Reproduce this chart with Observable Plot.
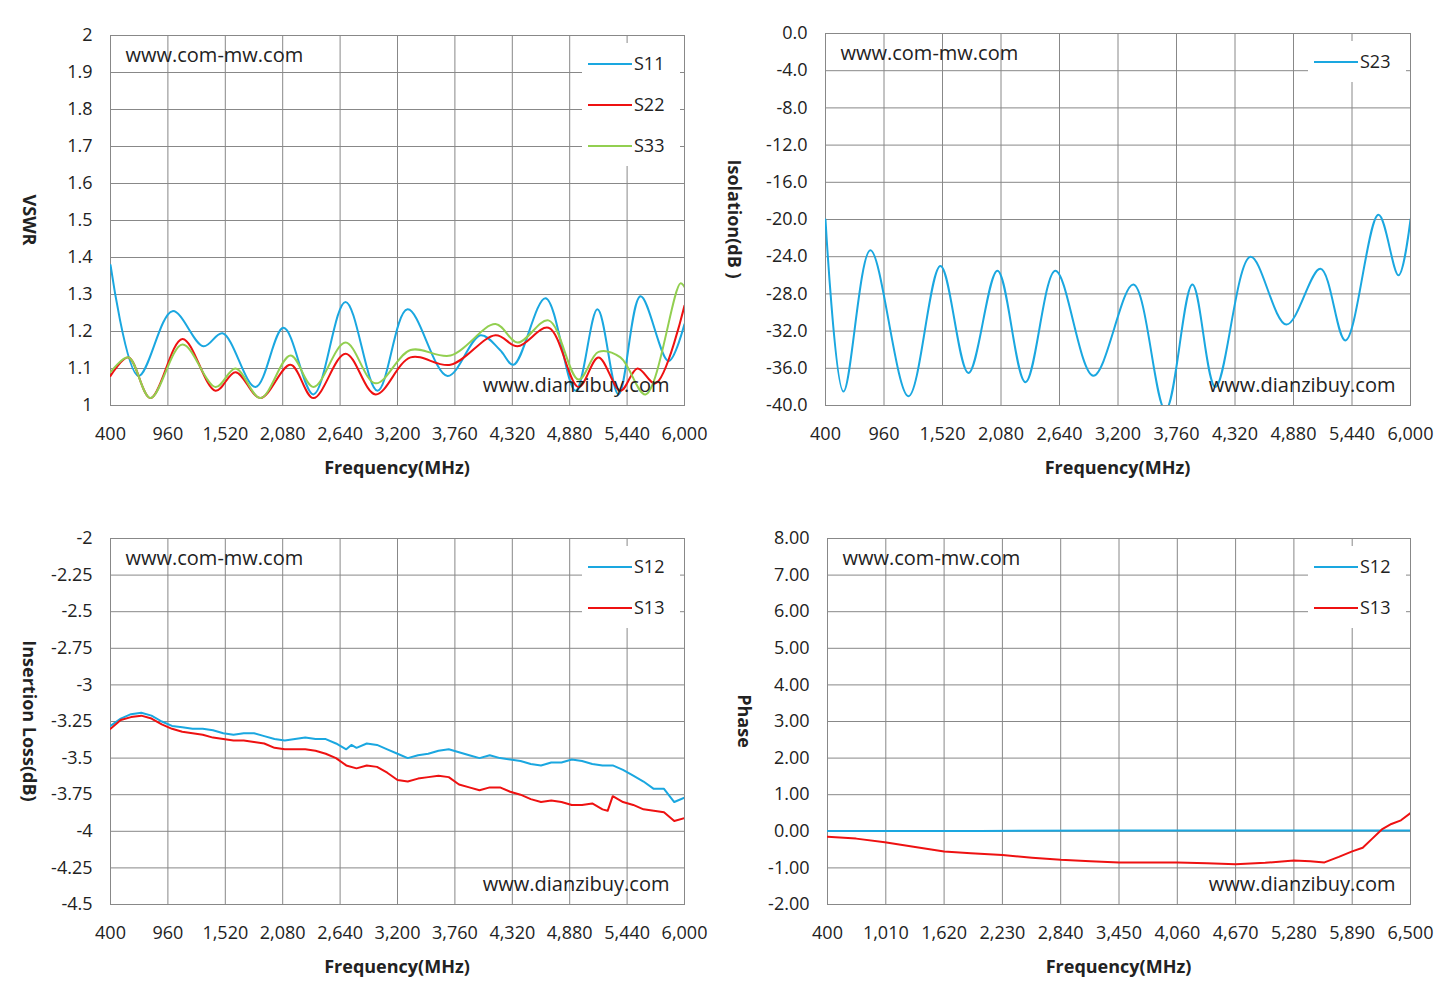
<!DOCTYPE html>
<html><head><meta charset="utf-8">
<script src="https://cdn.jsdelivr.net/npm/d3@7"></script>
<script src="https://cdn.jsdelivr.net/npm/@observablehq/plot@0.6"></script>
<style>
body{margin:0;background:#fff;font-family:"Open Sans",sans-serif;}
#root{position:relative;width:1453px;height:999px;overflow:hidden}
#root svg{position:absolute;left:0;top:0}
.lab{position:absolute;font-weight:bold;font-size:18px;color:#222;white-space:nowrap}
.leg{position:absolute;background:#fff;font-size:18px;color:#222}
.leg div{position:relative;height:41px;line-height:41px;padding-left:52px}
.leg span{position:absolute;left:6px;top:20px;width:44px;height:2px}
</style></head><body><div id="root"></div>
<script>
const BLUE="#1aa7e0", RED="#ee1111", GREEN="#92cf50";
// Panel 1: VSWR
const vswrS11=[[400,1.38],[673,1.08],[1005,1.255],[1307,1.16],[1493,1.195],[1815,1.05],[2088,1.21],[2380,1.03],[2693,1.28],[3005,1.04],[3298,1.26],[3688,1.08],[4010,1.19],[4200,1.15],[4332,1.11],[4644,1.29],[4937,1.04],[5151,1.26],[5356,1.03],[5571,1.295],[5844,1.12],[6000,1.22]];
const vswrS22=[[400,1.08],[575,1.13],[790,1.02],[1102,1.18],[1424,1.04],[1620,1.09],[1863,1.02],[2156,1.11],[2380,1.02],[2693,1.14],[2986,1.03],[3327,1.13],[3717,1.11],[4156,1.19],[4371,1.16],[4673,1.21],[4966,1.05],[5161,1.13],[5375,1.04],[5541,1.10],[5717,1.06],[6000,1.27]];
const vswrS33=[[400,1.09],[575,1.13],[790,1.02],[1102,1.165],[1424,1.05],[1620,1.10],[1863,1.02],[2156,1.135],[2380,1.05],[2693,1.17],[2986,1.06],[3327,1.15],[3717,1.135],[4156,1.22],[4371,1.17],[4673,1.23],[4966,1.07],[5161,1.145],[5375,1.13],[5620,1.03],[5960,1.33],[6000,1.32]];
// Panel 2: Isolation
const isoS23=[[400,-20],[572,-38.5],[830,-23.3],[1194,-39],[1500,-25],[1768,-36.5],[2046,-25.5],[2314,-37.5],[2601,-25.5],[2964,-36.8],[3347,-27],[3654,-40.5],[3912,-27],[4133,-38],[4468,-24],[4812,-31.3],[5138,-25.3],[5377,-33],[5693,-19.5],[5885,-26],[6000,-20]];
// Panel 3: Insertion loss
const ilS12=[[400,-3.28],[500,-3.23],[600,-3.2],[700,-3.19],[800,-3.21],[900,-3.25],[1000,-3.28],[1100,-3.29],[1200,-3.3],[1300,-3.3],[1400,-3.31],[1500,-3.33],[1600,-3.34],[1700,-3.33],[1800,-3.33],[1900,-3.35],[2000,-3.37],[2100,-3.38],[2200,-3.37],[2300,-3.36],[2400,-3.37],[2500,-3.37],[2600,-3.4],[2700,-3.44],[2750,-3.41],[2800,-3.43],[2900,-3.4],[3000,-3.41],[3100,-3.44],[3200,-3.47],[3300,-3.5],[3400,-3.48],[3500,-3.47],[3600,-3.45],[3700,-3.44],[3800,-3.46],[3900,-3.48],[4000,-3.5],[4100,-3.48],[4200,-3.5],[4300,-3.51],[4400,-3.52],[4500,-3.54],[4600,-3.55],[4700,-3.53],[4800,-3.53],[4900,-3.51],[5000,-3.52],[5100,-3.54],[5200,-3.55],[5300,-3.55],[5400,-3.58],[5500,-3.62],[5600,-3.66],[5700,-3.71],[5800,-3.71],[5900,-3.8],[6000,-3.77]];
const ilS13=[[400,-3.3],[500,-3.24],[600,-3.22],[700,-3.21],[800,-3.23],[900,-3.27],[1000,-3.3],[1100,-3.32],[1200,-3.33],[1300,-3.34],[1400,-3.36],[1500,-3.37],[1600,-3.38],[1700,-3.38],[1800,-3.39],[1900,-3.4],[2000,-3.43],[2100,-3.44],[2200,-3.44],[2300,-3.44],[2400,-3.45],[2500,-3.47],[2600,-3.5],[2700,-3.55],[2800,-3.57],[2900,-3.55],[3000,-3.56],[3100,-3.6],[3200,-3.65],[3300,-3.66],[3400,-3.64],[3500,-3.63],[3600,-3.62],[3700,-3.63],[3800,-3.68],[3900,-3.7],[4000,-3.72],[4100,-3.7],[4200,-3.7],[4300,-3.73],[4400,-3.75],[4500,-3.78],[4600,-3.8],[4700,-3.79],[4800,-3.8],[4900,-3.82],[5000,-3.82],[5100,-3.81],[5200,-3.85],[5250,-3.86],[5300,-3.76],[5400,-3.8],[5500,-3.82],[5600,-3.85],[5700,-3.86],[5800,-3.87],[5900,-3.93],[6000,-3.91]];
// Panel 4: Phase
const phS12=[[400,0.01],[2000,0.01],[3500,0.02],[5000,0.02],[6500,0.02]];
const phS13=[[400,-0.15],[700,-0.2],[1000,-0.3],[1300,-0.42],[1620,-0.55],[1900,-0.6],[2230,-0.65],[2540,-0.72],[2840,-0.78],[3150,-0.82],[3450,-0.85],[3750,-0.85],[4060,-0.85],[4370,-0.87],[4670,-0.9],[4980,-0.86],[5280,-0.8],[5450,-0.82],[5600,-0.85],[5750,-0.7],[5890,-0.55],[6000,-0.45],[6100,-0.2],[6200,0.05],[6300,0.2],[6400,0.3],[6500,0.5]];

const xTicks1=d3.range(400,6001,560), xTicks4=d3.range(400,6501,610);
const root=document.getElementById("root");
const fmtX=d3.format(",");
const hy=f=>d=>f(d).replace("\u2212","-");

function panel(o){
  const marks=[
    Plot.gridX(o.xt,{stroke:"#888",strokeOpacity:1}),
    Plot.gridY(o.yt,{stroke:"#888",strokeOpacity:1}),
    Plot.frame({stroke:"#888"}),
    Plot.axisX(o.xt,{tickSize:0,tickPadding:22,tickFormat:fmtX,label:null,fontSize:18}),
    Plot.axisY(o.yt,{tickSize:0,tickPadding:18,tickFormat:o.yf,label:null,fontSize:18}),
    ...o.series.map(s=>Plot.line(s.d,{x:d=>d[0],y:d=>d[1],stroke:s.c,strokeWidth:2,curve:o.curve||"linear",clip:true})),
    Plot.text(["www.com-mw.com"],{frameAnchor:"top-left",dx:15,dy:12,fontSize:20,textAnchor:"start",fill:"#222"}),
    Plot.text(["www.dianzibuy.com"],{frameAnchor:"bottom-right",dx:-15,dy:-14,fontSize:20,textAnchor:"end",fill:"#222"})
  ];
  const svg=Plot.plot({width:1453,height:999,marginLeft:o.l,marginTop:o.t,marginRight:1453-o.r,marginBottom:999-o.b,
    x:{domain:o.xd},y:{domain:o.yd},style:{fontFamily:"Open Sans",fontSize:"18px",color:"#222",background:"none"},marks});
  root.appendChild(svg);
  const xl=document.createElement("div");xl.className="lab";xl.textContent="Frequency(MHz)";
  xl.style.left=((o.l+o.r)/2-80)+"px";xl.style.top=(o.b+50)+"px";xl.style.width="160px";xl.style.textAlign="center";root.appendChild(xl);
  const yl=document.createElement("div");yl.className="lab";yl.textContent=o.ylab;
  yl.style.left=(o.yx-100)+"px";yl.style.top=((o.t+o.b)/2-12)+"px";yl.style.width="200px";yl.style.textAlign="center";yl.style.transform="rotate(90deg)";root.appendChild(yl);
  const lg=document.createElement("div");lg.className="leg";lg.style.left=(o.r-102)+"px";lg.style.top=(o.t+8)+"px";lg.style.width="98px";
  o.series.forEach(s=>{const r=document.createElement("div");r.innerHTML=`<span style="background:${s.c}"></span>${s.n}`;lg.appendChild(r);});
  root.appendChild(lg);
}
panel({l:110,r:684,t:35,b:405,xd:[400,6000],yd:[1,2],xt:xTicks1,yt:d3.range(1,2.001,0.1).map(v=>+v.toFixed(1)),yf:d=>String(+d.toFixed(1)),curve:"catmull-rom",ylab:"VSWR",yx:30,
  series:[{d:vswrS11,c:BLUE,n:"S11"},{d:vswrS22,c:RED,n:"S22"},{d:vswrS33,c:GREEN,n:"S33"}]});
panel({l:825,r:1410,t:33,b:405,xd:[400,6000],yd:[-40,0],xt:xTicks1,yt:d3.range(-40,0.1,4),yf:hy(d3.format(".1f")),curve:"catmull-rom",ylab:"Isolation(dB )",yx:735,
  series:[{d:isoS23,c:BLUE,n:"S23"}]});
panel({l:110,r:684,t:538,b:904,xd:[400,6000],yd:[-4.5,-2],xt:xTicks1,yt:d3.range(-4.5,-1.99,0.25).map(v=>+v.toFixed(2)),yf:d=>String(+d.toFixed(2)),ylab:"Insertion Loss(dB)",yx:30,
  series:[{d:ilS12,c:BLUE,n:"S12"},{d:ilS13,c:RED,n:"S13"}]});
panel({l:827,r:1410,t:538,b:904,xd:[400,6500],yd:[-2,8],xt:xTicks4,yt:d3.range(-2,8.1,1),yf:hy(d3.format(".2f")),ylab:"Phase",yx:745,
  series:[{d:phS12,c:BLUE,n:"S12"},{d:phS13,c:RED,n:"S13"}]});
</script></body></html>
